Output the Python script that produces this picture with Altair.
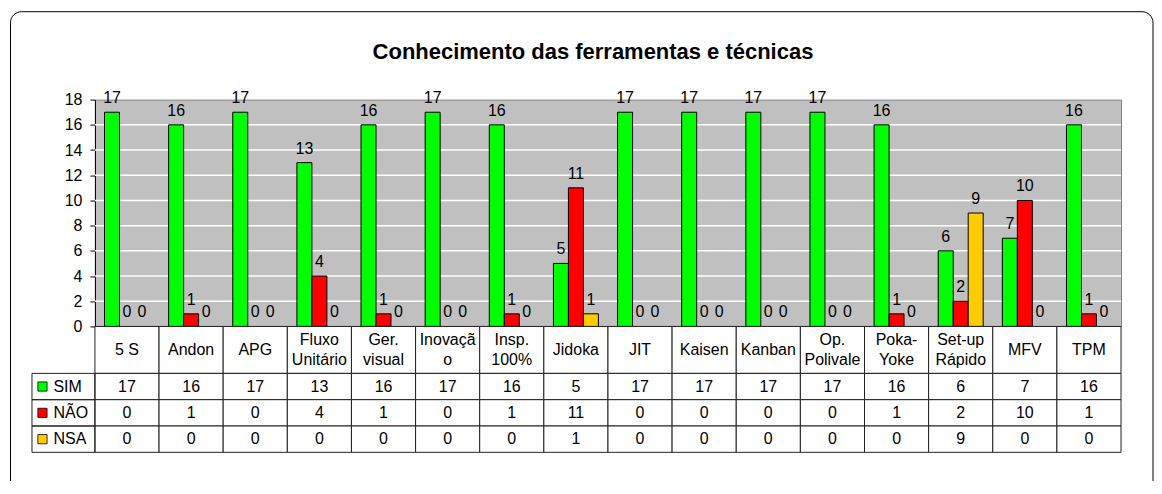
import altair as alt
import pandas as pd

# ---------------- data ----------------
categories = ["5 S", "Andon", "APG", "Fluxo Unitário", "Ger. visual", "Inovação",
              "Insp. 100%", "Jidoka", "JIT", "Kaisen", "Kanban", "Op. Polivale",
              "Poka-Yoke", "Set-up Rápido", "MFV", "TPM"]
header_labels = ["5 S", "Andon", "APG", "Fluxo\nUnitário", "Ger.\nvisual", "Inovaçã\no",
                 "Insp.\n100%", "Jidoka", "JIT", "Kaisen", "Kanban", "Op.\nPolivale",
                 "Poka-\nYoke", "Set-up\nRápido", "MFV", "TPM"]
series = ["SIM", "NÃO", "NSA"]
sim = [17, 16, 17, 13, 16, 17, 16, 5, 17, 17, 17, 17, 16, 6, 7, 16]
nao = [0, 1, 0, 4, 1, 0, 1, 11, 0, 0, 0, 0, 1, 2, 10, 1]
nsa = [0, 0, 0, 0, 0, 0, 0, 1, 0, 0, 0, 0, 0, 9, 0, 0]
colors = ["#00FF00", "#FF0000", "#FFCC00"]
y_ticks = [0, 2, 4, 6, 8, 10, 12, 14, 16, 18]
grid_values = [2, 4, 6, 8, 10, 12, 14, 16]
title_text = "Conhecimento das ferramentas e técnicas"

rows = []
for s, vals in zip(series, [sim, nao, nsa]):
    for c, v in zip(categories, vals):
        rows.append({"cat": c, "serie": s, "value": v})
df = pd.DataFrame(rows)
hdr_df = pd.DataFrame({"cat": categories, "label": header_labels})
ser_df = pd.DataFrame({"serie": series})
grid_df = pd.DataFrame({"value": grid_values})
one = pd.DataFrame({"a": [0]})

# ---------------- layout constants ----------------
PW = 1027
PH = 227
HH = 47
VH = 79
LH = 19.5
FONT = "Liberation Sans"
LINE = "#202020"

xcat = alt.X("cat:N", scale=alt.Scale(domain=categories, paddingInner=0, paddingOuter=0),
             axis=None)
xoff = alt.XOffset("serie:N", scale=alt.Scale(domain=series, paddingInner=0, paddingOuter=0.64))
yscale = alt.Scale(domain=[0, 18], nice=False, zero=True)
yaxis = alt.Axis(values=y_ticks, title=None, grid=False, tickSize=5, tickColor="black",
                 domainColor="black", labelFontSize=16, labelColor="black",
                 labelPadding=8, labelFont=FONT)
yenc = alt.Y("value:Q", scale=yscale, axis=yaxis)
color = alt.Color("serie:N", scale=alt.Scale(domain=series, range=colors), legend=None)

# ---------------- top panel ----------------
border = alt.Chart(one).mark_rect(fill="white", fillOpacity=0, stroke="black",
                                  strokeWidth=1, cornerRadius=11).encode(
    x=alt.value(-84.5), x2=alt.value(1059), y=alt.value(-88), y2=alt.value(400))

title = alt.Chart(one).mark_text(text=title_text, fontSize=22, fontWeight="bold",
                                 align="center", baseline="alphabetic", color="black",
                                 font=FONT).encode(
    x=alt.value(498.5), y=alt.value(-41))

grid = alt.Chart(grid_df).mark_rule(color="white", strokeWidth=1.5).encode(y=yenc)

bars = alt.Chart(df).transform_filter("datum.value > 0").mark_bar(
    stroke="black", strokeWidth=1).encode(x=xcat, xOffset=xoff, y=yenc, color=color)

labels = alt.Chart(df).mark_text(dy=-9, baseline="alphabetic", fontSize=16,
                                 color="black", font=FONT).encode(
    x=xcat, xOffset=xoff, y=yenc, text="value:Q")

top = alt.layer(grid, bars, labels, title, border).properties(
    width=PW, height=PH,
    view=alt.ViewBackground(fill="#C0C0C0", stroke="#808080", strokeWidth=1))

# ---------------- header row ----------------
hcells = alt.Chart(hdr_df).mark_rect(fill="white", stroke=LINE, strokeWidth=1).encode(
    x=xcat, y=alt.value(0), y2=alt.value(HH))
htext1 = alt.Chart(hdr_df).transform_filter("indexof(datum.label, '\\n') < 0").mark_text(
    fontSize=16, baseline="middle", color="black", font=FONT).encode(
    x=xcat, y=alt.value(HH / 2), text="label:N")
htext2 = alt.Chart(hdr_df).transform_filter("indexof(datum.label, '\\n') >= 0").mark_text(
    lineBreak="\n", lineHeight=LH, fontSize=16, baseline="middle", color="black",
    font=FONT).encode(
    x=xcat, y=alt.value(HH / 2 - LH / 2), text="label:N")
header = alt.layer(hcells, htext1, htext2).properties(width=PW, height=HH)

# ---------------- value rows ----------------
yser = alt.Y("serie:N", scale=alt.Scale(domain=series, paddingInner=0, paddingOuter=0),
             axis=None)
vcells = alt.Chart(df).mark_rect(fill="white", stroke=LINE, strokeWidth=1).encode(
    x=xcat, y=yser)
vtext = alt.Chart(df).mark_text(fontSize=16, baseline="middle", color="black",
                                font=FONT).encode(x=xcat, y=yser, text="value:Q")
lcells = alt.Chart(ser_df).mark_rect(fill="white", fillOpacity=0, stroke=LINE,
                                     strokeWidth=1).encode(
    x=alt.value(-63), x2=alt.value(0), y=yser)
lkeys = alt.Chart(ser_df).mark_square(size=85, stroke="black", strokeWidth=0.8,
                                      opacity=1).encode(
    x=alt.value(-52.5), y=yser, color=color)
ltext = alt.Chart(ser_df).mark_text(fontSize=16, align="left", baseline="middle",
                                    color="black", font=FONT).encode(
    x=alt.value(-41.5), y=yser, text="serie:N")
values = alt.layer(vcells, vtext, lcells, lkeys, ltext).properties(width=PW, height=VH)

chart = alt.vconcat(top, header, values, spacing=0, bounds="flush").properties(
    padding={"left": 1, "top": 2.5, "right": 0, "bottom": -19.5}
).configure(font=FONT).configure_view(stroke="transparent")

chart.save("out.html", embed_options={"renderer": "svg", "actions": False})
